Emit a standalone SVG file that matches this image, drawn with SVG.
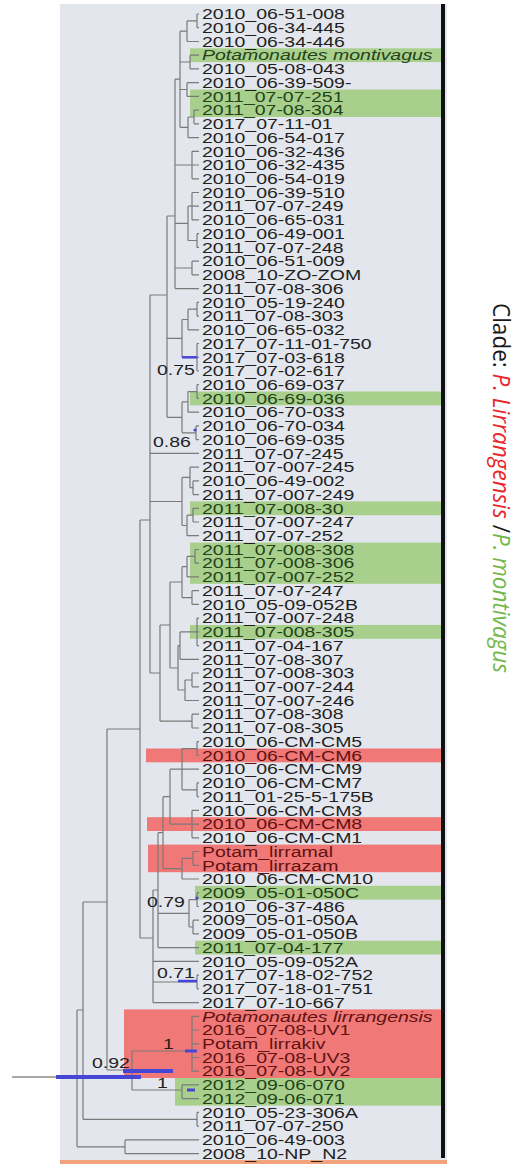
<svg xmlns="http://www.w3.org/2000/svg" width="532" height="1164" viewBox="0 0 532 1164">
<style>
.lbl{font-family:"Liberation Sans",Arial,sans-serif;font-size:15px;fill:#1f1f1f}
.gt{fill:#24421a}
.rt{fill:#601212}
.it{font-style:italic}
.br{fill:none;stroke:#7a7a7a;stroke-width:1.2}
.hpd{stroke:#4646d6;fill:none}
.hg{fill:#a8d08c}
.hr{fill:#f07876}
.sup{font-family:"Liberation Sans",Arial,sans-serif;font-size:15px;fill:#1f1f1f}
</style>
<rect width="532" height="1164" fill="#ffffff"/>
<rect id="panel" x="60" y="4" width="387" height="1157" fill="#e3e6ed"/>
<rect x="60" y="1160" width="387" height="4" fill="#f2a37e"/>
<g id="highlights">
<rect class="hg" x="190" y="48.3" width="251" height="13.8"/>
<rect class="hg" x="190" y="89.5" width="251" height="27.5"/>
<rect class="hg" x="190" y="391.5" width="251" height="13.8"/>
<rect class="hg" x="190" y="501.4" width="251" height="13.8"/>
<rect class="hg" x="190" y="542.6" width="251" height="41.2"/>
<rect class="hg" x="190" y="625" width="251" height="13.8"/>
<rect class="hg" x="195" y="885.8" width="246" height="13.8"/>
<rect class="hg" x="195" y="940.7" width="246" height="13.8"/>
<rect class="hg" x="175" y="1078" width="266" height="27.6"/>
<rect class="hr" x="146" y="748.5" width="297" height="13.8"/>
<rect class="hr" x="147" y="817.2" width="296" height="13.8"/>
<rect class="hr" x="148" y="844.6" width="295" height="27.6"/>
<rect class="hr" x="124" y="1009.4" width="319" height="68.6"/>
</g>
<g id="connectors" class="br">
<path d="M197 14V27.7M197 14H199M197 27.7H199"/>
<path d="M187 20.9V41.5M187 20.9H197M187 41.5H199"/>
<path d="M190 55.2V68.9M190 55.2H199M190 68.9H199"/>
<path d="M187 82.7V96.4M187 82.7H199M187 96.4H199"/>
<path d="M194 110.1V123.8M194 110.1H199M194 123.8H199"/>
<path d="M188 117V137.6M188 117H194M188 137.6H199"/>
<path d="M180 31.2V127.3M180 31.2H187M180 62H190M180 89.5H187M180 127.3H188"/>
<path d="M192 151.3V178.8M192 151.3H199M192 165H199M192 178.8H199"/>
<path d="M192 192.5V219.9M192 192.5H199M192 206.2H199M192 219.9H199"/>
<path d="M197 233.7V247.4M197 233.7H199M197 247.4H199"/>
<path d="M188 206.2V240.5M188 206.2H192M188 240.5H197"/>
<path d="M192 261.1V274.9M192 261.1H199M192 274.9H199"/>
<path d="M175 79.2V288.6M175 79.2H180M175 165H192M175 223.4H188M175 268H192M175 288.6H199"/>
<path d="M167 216V417.3M167 216H175M167 338.4H182M167 417.3H182"/>
<path d="M197 302.3V316.1M197 302.3H199M197 316.1H199"/>
<path d="M188 309.2V329.8M188 309.2H197M188 329.8H199"/>
<path d="M197 343.5V371M197 343.5H199M197 357.3H199M197 371H199"/>
<path d="M182 319.5V357.3M182 319.5H188"/>
<path d="M197 384.7V398.4M197 384.7H199M197 398.4H199"/>
<path d="M188 391.6V412.2M188 391.6H197M188 412.2H199"/>
<path d="M196 425.9V439.6M196 425.9H199M196 439.6H199"/>
<path d="M182 401.9V432.8M182 401.9H188M182 432.8H196"/>
<path d="M193 480.8V494.6M193 480.8H199M193 494.6H199"/>
<path d="M190 467.1V487.7M190 467.1H199M190 487.7H193"/>
<path d="M193 508.3V522M193 508.3H199M193 522H199"/>
<path d="M187 515.2V535.7M187 515.2H193M187 535.7H199"/>
<path d="M182 477.4V525.5M182 477.4H190M182 525.5H187"/>
<path d="M195 549.5V563.2M195 549.5H199M195 563.2H199"/>
<path d="M187 556.4V576.9M187 556.4H195M187 576.9H199"/>
<path d="M192 590.7V604.4M192 590.7H199M192 604.4H199"/>
<path d="M182 566.7V597.6M182 566.7H187M182 597.6H192"/>
<path d="M197 618.1V645.6M197 618.1H199M197 631.9H199M197 645.6H199"/>
<path d="M180 631.9V659.3M180 631.9H197M180 659.3H199"/>
<path d="M192 673V686.8M192 673H199M192 686.8H199"/>
<path d="M185 680V700.5M185 680H192M185 700.5H199"/>
<path d="M178 645.6V690M178 645.6H180M178 690H185"/>
<path d="M170 582V668M170 582H182M170 668H178"/>
<path d="M192 714.2V728M192 714.2H199M192 728H199"/>
<path d="M160 625V721.1M160 625H170M160 721.1H192"/>
<path d="M150 295V673M150 295H167M150 453.4H199M150 501.5H182M150 673H160"/>
<path d="M197 741.7V755.4M197 741.7H199M197 755.4H199"/>
<path d="M197 782.9V796.6M197 782.9H199M197 796.6H199"/>
<path d="M182 748.6V789.8M182 748.6H197M182 769.2H199M182 789.8H197"/>
<path d="M192 810.3V837.8M192 810.3H199M192 824.1H199M192 837.8H199"/>
<path d="M170 769.2V824.1M170 769.2H182M170 824.1H192"/>
<path d="M193 851.5V865.3M193 851.5H199M193 865.3H199"/>
<path d="M182 858.4V879M182 858.4H193M182 879H199"/>
<path d="M163 796.7V868.7M163 796.7H170M163 868.7H182"/>
<path d="M197 892.7V906.5M197 892.7H199M197 906.5H199"/>
<path d="M193 920.2V933.9M193 920.2H199M193 933.9H199"/>
<path d="M189 899.6V927M189 899.6H197M189 927H193"/>
<path d="M158 832.7V947.6M158 832.7H163M158 913.3H189M158 947.6H199"/>
<path d="M197 975.1V988.8M197 975.1H199M197 988.8H199"/>
<path d="M153 890V1002.6M153 890H158M153 961.4H199M153 982H197M153 1002.6H199"/>
<path d="M140 520V938M140 520H150M140 938H153"/>
<path d="M192 1016.3V1071.2M192 1016.3H199M192 1030H199M192 1043.8H199M192 1057.5H199M192 1071.2H199"/>
<path d="M182 1084.9V1098.7M182 1084.9H199M182 1098.7H199"/>
<path d="M132 1051V1090M132 1051H192M132 1090H182"/>
<path d="M107 729V1070M107 729H140M107 1070H132"/>
<path d="M197 1112.4V1126.1M197 1112.4H199M197 1126.1H199"/>
<path d="M83 902V1119.3M83 902H107M83 1119.3H197"/>
<path d="M125 1139.9V1153.6M125 1139.9H199M125 1153.6H199"/>
<path d="M77 1010V1146.8M77 1010H83M77 1146.8H125"/>
<path d="M12 1077H77" stroke="#555"/>
</g>
<g id="node-bars" class="hpd">
<path d="M182 357.3H197" stroke-width="2.5"/>
<path d="M178 981H197" stroke-width="2.5"/>
<path d="M185 1051H197" stroke-width="3"/>
<path d="M187 1090H195" stroke-width="3"/>
<path d="M123 1071H173" stroke-width="4"/>
<path d="M56 1077H141" stroke-width="4"/>
<circle cx="195" cy="430" r="1.6" fill="#4646d6" stroke="none"/>
<circle cx="197" cy="898" r="1.6" fill="#4646d6" stroke="none"/>
</g>
<g id="support">
<text class="sup" transform="translate(157 375) scale(1.3 1)">0.75</text>
<text class="sup" transform="translate(153 447) scale(1.3 1)">0.86</text>
<text class="sup" transform="translate(147 907) scale(1.3 1)">0.79</text>
<text class="sup" transform="translate(157 978) scale(1.3 1)">0.71</text>
<text class="sup" transform="translate(163 1049) scale(1.3 1)">1</text>
<text class="sup" transform="translate(92 1068) scale(1.3 1)">0.92</text>
<text class="sup" transform="translate(157 1088) scale(1.3 1)">1</text>
</g>
<g id="leaves" class="lbl" transform="translate(202 0) scale(1.3 1)">
<g id="leaf-0"><text y="19.3">2010_06-51-008</text></g>
<g id="leaf-1"><text y="33.0">2010_06-34-445</text></g>
<g id="leaf-2"><text y="46.8">2010_06-34-446</text></g>
<g id="leaf-3"><text y="60.5" class="gt it">Potamonautes montivagus</text></g>
<g id="leaf-4"><text y="74.2">2010_05-08-043</text></g>
<g id="leaf-5"><text y="88.0">2010_06-39-509-</text></g>
<g id="leaf-6"><text y="101.7" class="gt">2011_07-07-251</text></g>
<g id="leaf-7"><text y="115.4" class="gt">2011_07-08-304</text></g>
<g id="leaf-8"><text y="129.1">2017_07-11-01</text></g>
<g id="leaf-9"><text y="142.9">2010_06-54-017</text></g>
<g id="leaf-10"><text y="156.6">2010_06-32-436</text></g>
<g id="leaf-11"><text y="170.3">2010_06-32-435</text></g>
<g id="leaf-12"><text y="184.1">2010_06-54-019</text></g>
<g id="leaf-13"><text y="197.8">2010_06-39-510</text></g>
<g id="leaf-14"><text y="211.5">2011_07-07-249</text></g>
<g id="leaf-15"><text y="225.2">2010_06-65-031</text></g>
<g id="leaf-16"><text y="239.0">2010_06-49-001</text></g>
<g id="leaf-17"><text y="252.7">2011_07-07-248</text></g>
<g id="leaf-18"><text y="266.4">2010_06-51-009</text></g>
<g id="leaf-19"><text y="280.2">2008_10-ZO-ZOM</text></g>
<g id="leaf-20"><text y="293.9">2011_07-08-306</text></g>
<g id="leaf-21"><text y="307.6">2010_05-19-240</text></g>
<g id="leaf-22"><text y="321.4">2011_07-08-303</text></g>
<g id="leaf-23"><text y="335.1">2010_06-65-032</text></g>
<g id="leaf-24"><text y="348.8">2017_07-11-01-750</text></g>
<g id="leaf-25"><text y="362.6">2017_07-03-618</text></g>
<g id="leaf-26"><text y="376.3">2017_07-02-617</text></g>
<g id="leaf-27"><text y="390.0">2010_06-69-037</text></g>
<g id="leaf-28"><text y="403.7" class="gt">2010_06-69-036</text></g>
<g id="leaf-29"><text y="417.5">2010_06-70-033</text></g>
<g id="leaf-30"><text y="431.2">2010_06-70-034</text></g>
<g id="leaf-31"><text y="444.9">2010_06-69-035</text></g>
<g id="leaf-32"><text y="458.7">2011_07-07-245</text></g>
<g id="leaf-33"><text y="472.4">2011_07-007-245</text></g>
<g id="leaf-34"><text y="486.1">2010_06-49-002</text></g>
<g id="leaf-35"><text y="499.9">2011_07-007-249</text></g>
<g id="leaf-36"><text y="513.6" class="gt">2011_07-008-30</text></g>
<g id="leaf-37"><text y="527.3">2011_07-007-247</text></g>
<g id="leaf-38"><text y="541.0">2011_07-07-252</text></g>
<g id="leaf-39"><text y="554.8" class="gt">2011_07-008-308</text></g>
<g id="leaf-40"><text y="568.5" class="gt">2011_07-008-306</text></g>
<g id="leaf-41"><text y="582.2" class="gt">2011_07-007-252</text></g>
<g id="leaf-42"><text y="596.0">2011_07-07-247</text></g>
<g id="leaf-43"><text y="609.7">2010_05-09-052B</text></g>
<g id="leaf-44"><text y="623.4">2011_07-007-248</text></g>
<g id="leaf-45"><text y="637.2" class="gt">2011_07-008-305</text></g>
<g id="leaf-46"><text y="650.9">2011_07-04-167</text></g>
<g id="leaf-47"><text y="664.6">2011_07-08-307</text></g>
<g id="leaf-48"><text y="678.3">2011_07-008-303</text></g>
<g id="leaf-49"><text y="692.1">2011_07-007-244</text></g>
<g id="leaf-50"><text y="705.8">2011_07-007-246</text></g>
<g id="leaf-51"><text y="719.5">2011_07-08-308</text></g>
<g id="leaf-52"><text y="733.3">2011_07-08-305</text></g>
<g id="leaf-53"><text y="747.0">2010_06-CM-CM5</text></g>
<g id="leaf-54"><text y="760.7" class="rt">2010_06-CM-CM6</text></g>
<g id="leaf-55"><text y="774.5">2010_06-CM-CM9</text></g>
<g id="leaf-56"><text y="788.2">2010_06-CM-CM7</text></g>
<g id="leaf-57"><text y="801.9">2011_01-25-5-175B</text></g>
<g id="leaf-58"><text y="815.6">2010_06-CM-CM3</text></g>
<g id="leaf-59"><text y="829.4" class="rt">2010_06-CM-CM8</text></g>
<g id="leaf-60"><text y="843.1">2010_06-CM-CM1</text></g>
<g id="leaf-61"><text y="856.8" class="rt">Potam_lirramal</text></g>
<g id="leaf-62"><text y="870.6" class="rt">Potam_lirrazam</text></g>
<g id="leaf-63"><text y="884.3">2010_06-CM-CM10</text></g>
<g id="leaf-64"><text y="898.0" class="gt">2009_05-01-050C</text></g>
<g id="leaf-65"><text y="911.8">2010_06-37-486</text></g>
<g id="leaf-66"><text y="925.5">2009_05-01-050A</text></g>
<g id="leaf-67"><text y="939.2">2009_05-01-050B</text></g>
<g id="leaf-68"><text y="952.9" class="gt">2011_07-04-177</text></g>
<g id="leaf-69"><text y="966.7">2010_05-09-052A</text></g>
<g id="leaf-70"><text y="980.4">2017_07-18-02-752</text></g>
<g id="leaf-71"><text y="994.1">2017_07-18-01-751</text></g>
<g id="leaf-72"><text y="1007.9">2017_07-10-667</text></g>
<g id="leaf-73"><text y="1021.6" class="rt it">Potamonautes lirrangensis</text></g>
<g id="leaf-74"><text y="1035.3" class="rt">2016_07-08-UV1</text></g>
<g id="leaf-75"><text y="1049.1" class="rt">Potam_lirrakiv</text></g>
<g id="leaf-76"><text y="1062.8" class="rt">2016_07-08-UV3</text></g>
<g id="leaf-77"><text y="1076.5" class="rt">2016_07-08-UV2</text></g>
<g id="leaf-78"><text y="1090.2" class="gt">2012_09-06-070</text></g>
<g id="leaf-79"><text y="1104.0" class="gt">2012_09-06-071</text></g>
<g id="leaf-80"><text y="1117.7">2010_05-23-306A</text></g>
<g id="leaf-81"><text y="1131.4">2011_07-07-250</text></g>
<g id="leaf-82"><text y="1145.2">2010_06-49-003</text></g>
<g id="leaf-83"><text y="1158.9">2008_10-NP_N2</text></g>
</g>
<rect id="clade-bar" x="441" y="4" width="4" height="1154" fill="#111"/>
<g id="clade-title">
<text transform="translate(493 303) rotate(90)" font-family="'Open Sans','Liberation Sans',sans-serif" font-size="24" textLength="370" lengthAdjust="spacingAndGlyphs"><tspan fill="#1a1a1a">Clade: </tspan><tspan fill="#e8262b" font-style="italic">P. Lirrangensis </tspan><tspan fill="#1a1a1a">/</tspan><tspan fill="#72b84a" font-style="italic">P. montivagus</tspan></text>
</g>
</svg>
